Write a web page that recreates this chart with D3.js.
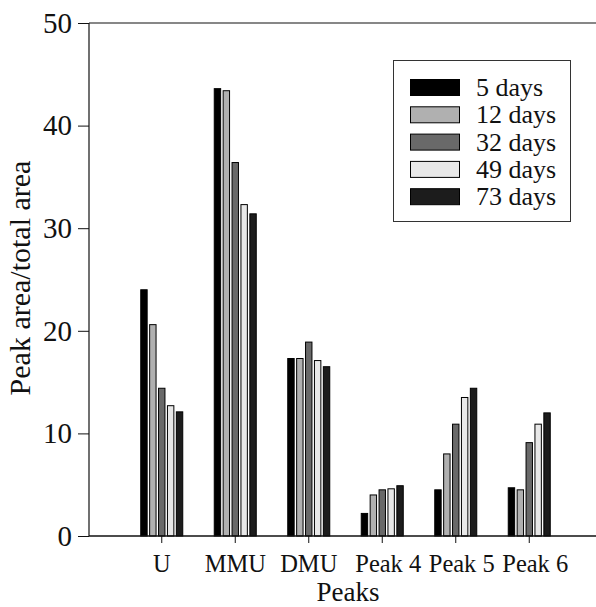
<!DOCTYPE html>
<html>
<head>
<meta charset="utf-8">
<script src="https://cdn.jsdelivr.net/npm/d3@7"></script>
<style>
  html, body { margin: 0; padding: 0; background: #fff; }
  svg { display: block; }
  svg text { font-family: "Liberation Serif", Tinos, "Times New Roman", Times, "DejaVu Serif", serif !important; fill: #111; }
</style>
</head>
<body>
<svg id="chart" width="596" height="607"></svg>
<script>
const categories = ["U", "MMU", "DMU", "Peak 4", "Peak 5", "Peak 6"];
const seriesNames = ["5 days", "12 days", "32 days", "49 days", "73 days"];
const days5  = [24.0, 43.6, 17.3, 2.2, 4.5, 4.7];
const days12 = [20.6, 43.4, 17.3, 4.0, 8.0, 4.5];
const days32 = [14.4, 36.4, 18.9, 4.5, 10.9, 9.1];
const days49 = [12.7, 32.3, 17.1, 4.6, 13.5, 10.9];
const days73 = [12.1, 31.4, 16.5, 4.9, 14.4, 12.0];
const yTicks = [0, 10, 20, 30, 40, 50];
const colors = ["#000000", "#b0b0b0", "#696969", "#e8e8e8", "#1c1c1c"];

const seriesValues = [days5, days12, days32, days49, days73];
const FONT = '"Liberation Serif", Tinos, "Times New Roman", Times, "DejaVu Serif", serif';

const svg = d3.select("#chart");
const axisLeftX = 89, plotRight = 596, yBottom = 536, yTop = 23;

const y = d3.scaleLinear().domain([0, 50]).range([yBottom, yTop]);
const x = d3.scaleBand().domain(categories).range([125, 566]).padding(0);
const inner = d3.scaleBand().domain(seriesNames).range([-21, 21]).paddingInner(0.28);

// Bars
const groups = svg.append("g").selectAll("g")
  .data(categories)
  .join("g")
  .attr("transform", d => `translate(${x(d) + x.bandwidth() / 2},0)`);

groups.selectAll("rect")
  .data((c, i) => seriesNames.map((s, k) => ({ s, k, v: seriesValues[k][i] })))
  .join("rect")
  .attr("x", d => inner(d.s))
  .attr("width", inner.bandwidth())
  .attr("y", d => y(d.v))
  .attr("height", d => yBottom - y(d.v))
  .attr("fill", d => colors[d.k])
  .attr("stroke", "#000")
  .attr("stroke-width", 1);

// Y axis
const yAxis = d3.axisLeft(y).tickValues(yTicks).tickSize(11).tickPadding(6).tickFormat(d3.format("d"));
const gy = svg.append("g").attr("transform", `translate(${axisLeftX},0)`).call(yAxis)
  .attr("font-family", FONT).attr("font-size", 29);
gy.select(".domain").remove();
gy.selectAll(".tick line").attr("stroke", "#111");
gy.selectAll(".tick text").attr("fill", "#111");
svg.append("line").attr("x1", axisLeftX).attr("x2", axisLeftX).attr("y1", yTop).attr("y2", yBottom)
  .attr("stroke", "#111").attr("stroke-width", 1.2);

// X axis
const xAxis = d3.axisBottom(x).tickSize(7).tickPadding(12);
const gx = svg.append("g").attr("transform", `translate(0,${yBottom})`).call(xAxis)
  .attr("font-family", FONT).attr("font-size", 24.5);
gx.select(".domain").remove();
gx.selectAll(".tick line").attr("stroke", "#111");
gx.selectAll(".tick text").attr("fill", "#111")
  .attr("dx", d => d.startsWith("Peak") ? 6 : 0);
svg.append("line").attr("x1", axisLeftX).attr("x2", plotRight).attr("y1", yBottom).attr("y2", yBottom)
  .attr("stroke", "#111").attr("stroke-width", 1.5);
// top frame line
svg.append("line").attr("x1", axisLeftX).attr("x2", plotRight).attr("y1", yTop).attr("y2", yTop)
  .attr("stroke", "#111").attr("stroke-width", 1.2);

// Axis titles
svg.append("text").attr("x", 348).attr("y", 601).attr("text-anchor", "middle")
  .attr("font-family", FONT).attr("font-size", 27).text("Peaks");
svg.append("text").attr("transform", "translate(30,278) rotate(-90)").attr("text-anchor", "middle")
  .attr("font-family", FONT).attr("font-size", 30).text("Peak area/total area");

// Legend
const lg = svg.append("g").attr("font-family", FONT);
lg.append("rect").attr("x", 393.5).attr("y", 60.5).attr("width", 177).attr("height", 161)
  .attr("fill", "#fff").attr("stroke", "#333").attr("stroke-width", 1);
const rowH = 27.3;
seriesNames.forEach((s, k) => {
  lg.append("rect").attr("x", 410.5).attr("y", 79.5 + k * rowH).attr("width", 49).attr("height", 16)
    .attr("fill", colors[k]).attr("stroke", "#000").attr("stroke-width", 1);
  lg.append("text").attr("x", 476).attr("y", 96 + k * rowH).attr("font-size", 26).text(s);
});
</script>
</body>
</html>
